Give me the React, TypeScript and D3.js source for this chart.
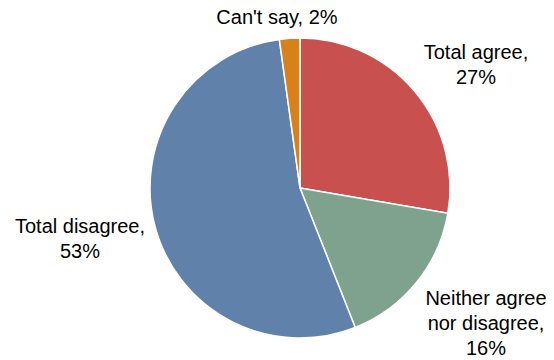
import React from "react";
import * as d3 from "d3";

const categories = ["Total agree", "Neither agree nor disagree", "Total disagree", "Can't say"];
const values = [27.7, 16.3, 53.8, 2.2];
const labelLines = [
  ["Total agree,", "27%"],
  ["Neither agree", "nor disagree,", "16%"],
  ["Total disagree,", "53%"],
  ["Can't say, 2%"],
];
const colors = ["#C8514F", "#7FA28E", "#5F81AA", "#D88019"];

// layout (not data)
const W = 554, H = 360;
const cx = 300, cy = 188, R = 150;
const labelAnchors: [number, number][] = [
  [476, 59],
  [486, 305],
  [80, 233],
  [277, 24],
];
const lineH = 25;

export default function App() {
  const pie = d3.pie<number>().sort(null).value((d) => d);
  const arcs = pie(values);
  const arc = d3.arc<d3.PieArcDatum<number>>().innerRadius(0).outerRadius(R);
  return (
    <svg width={W} height={H} style={{ position: "absolute", left: 0, top: 0 }}
      fontFamily="'Liberation Sans', Arial, sans-serif">
      <g transform={`translate(${cx},${cy})`}>
        {arcs.map((a, i) => (
          <path key={categories[i]} d={arc(a) || ""} fill={colors[i]} stroke="#fff" strokeWidth={1.5} strokeLinejoin="round" />
        ))}
      </g>
      {labelLines.map((lines, i) => (
        <text key={i} x={labelAnchors[i][0]} y={labelAnchors[i][1]} textAnchor="middle" fontSize={20} fill="#000">
          {lines.map((l, j) => (
            <tspan key={j} x={labelAnchors[i][0]} dy={j === 0 ? 0 : lineH}>{l}</tspan>
          ))}
        </text>
      ))}
    </svg>
  );
}
